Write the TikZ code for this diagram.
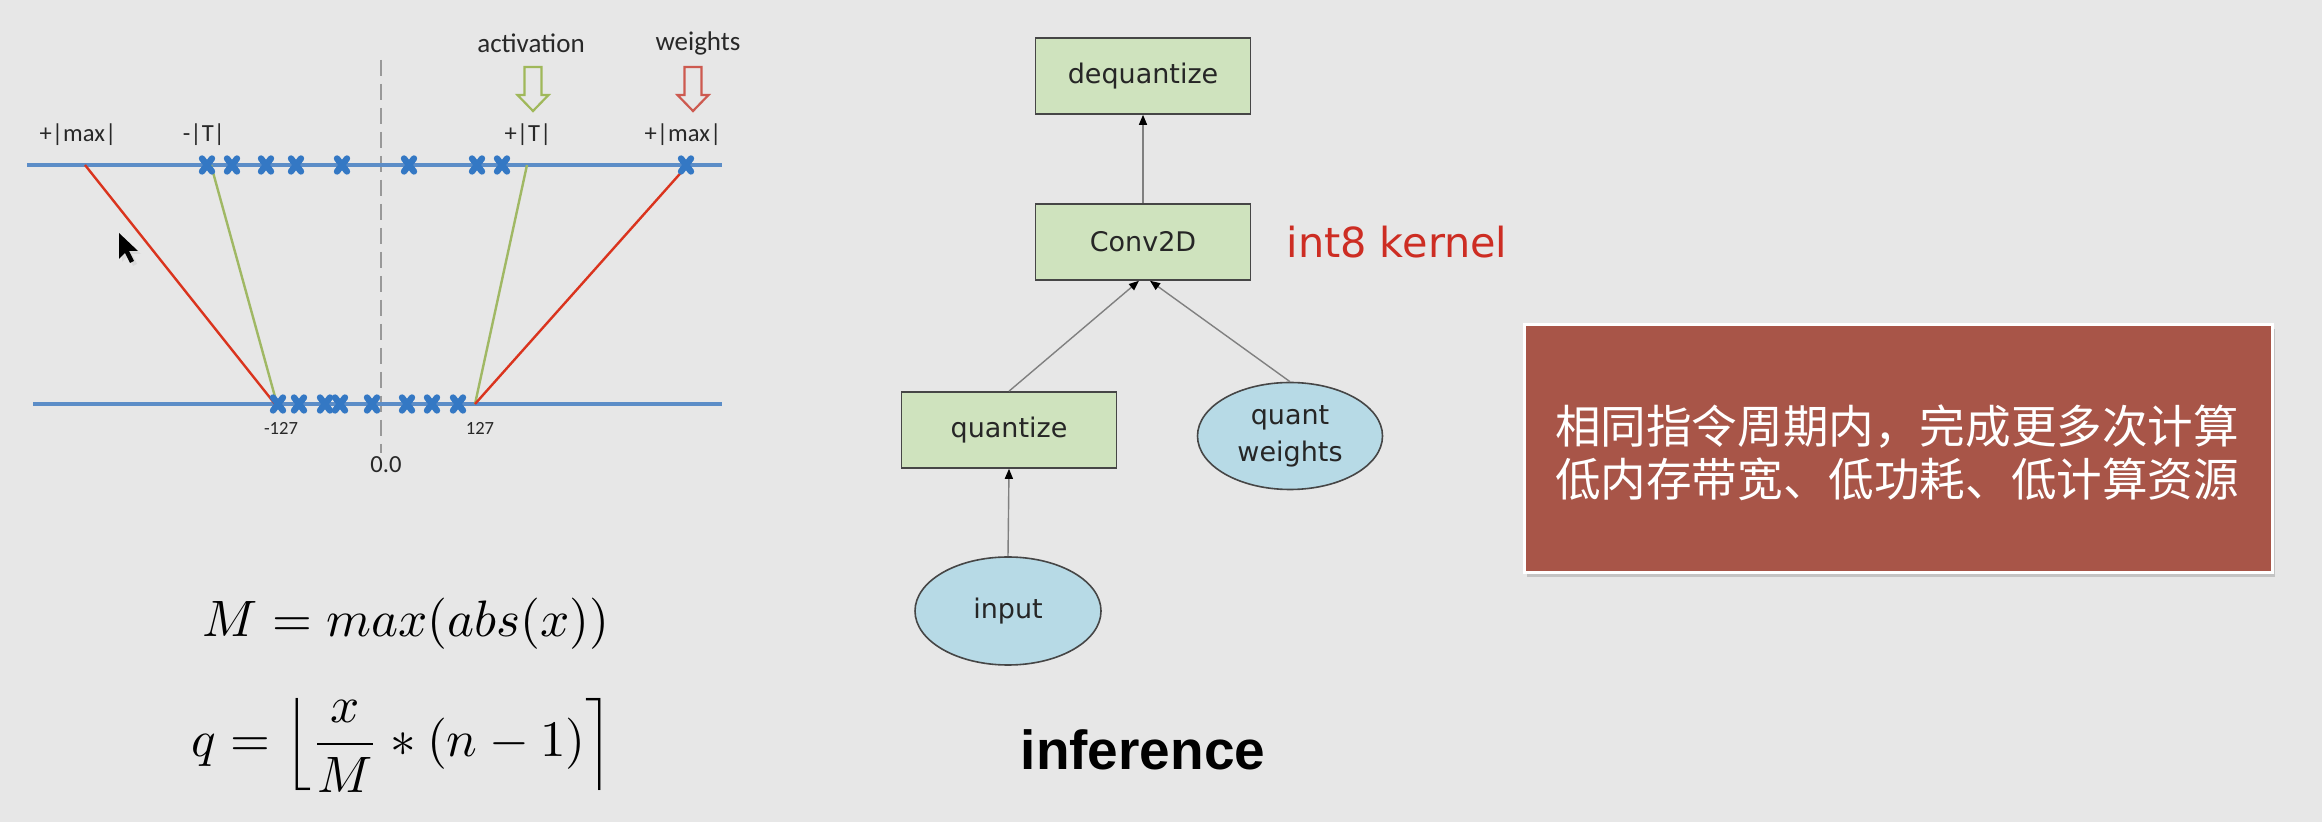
\documentclass[tikz,border=0pt]{standalone}
\usepackage{fontspec}
\usepackage{graphicx}
\usepackage{amsmath}
\usetikzlibrary{shapes.geometric,arrows.meta,shadows}
\newfontfamily\carlito{Carlito}
\newfontfamily\dejavu{DejaVu Sans}
\newfontfamily\libsans{Liberation Sans}
\newfontfamily\cjk{Noto Sans CJK SC}
\definecolor{bg}{RGB}{231,231,231}
\definecolor{axisblue}{RGB}{92,141,199}
\definecolor{crossblue}{RGB}{52,120,196}
\definecolor{redline}{RGB}{218,52,30}
\definecolor{greenline}{RGB}{160,184,100}
\definecolor{hgreen}{RGB}{160,184,90}
\definecolor{hred}{RGB}{205,90,80}
\definecolor{boxfill}{RGB}{207,227,190}
\definecolor{boxline}{RGB}{70,70,70}
\definecolor{ellfill}{RGB}{183,218,230}
\definecolor{redbox}{RGB}{168,85,72}
\definecolor{int8red}{RGB}{205,45,35}
\definecolor{labeltext}{RGB}{40,40,40}
\tikzset{
  axis/.style={draw=axisblue, line width=1.9pt},
  zeroline/.style={draw=black!40, line width=1.1pt, dash pattern=on 8pt off 4pt},
  redmap/.style={draw=redline, line width=1.2pt},
  greenmap/.style={draw=greenline, line width=1.2pt},
  lbl/.style={font=\carlito\fontsize{12.3}{14}\selectfont, text=labeltext, inner sep=0pt},
  toplbl/.style={font=\carlito\fontsize{13.5}{16}\selectfont, text=labeltext, inner sep=0pt},
  smalllbl/.style={font=\carlito\fontsize{9.3}{11}\selectfont, text=labeltext, inner sep=0pt},
  qbox/.style={draw=boxline, line width=0.8pt, fill=boxfill, minimum width=107.5pt, minimum height=38pt, inner sep=0pt, font=\dejavu\fontsize{13.5}{16}\selectfont, text=black!85},
  qell/.style={ellipse, draw=boxline, line width=0.8pt, fill=ellfill, inner sep=0pt, align=center, font=\dejavu\fontsize{13.5}{18.5}\selectfont, text=black!85},
  flow/.style={draw=black!50, line width=0.7pt, -{Triangle[length=5pt,width=4pt,color=black]}},
  pics/xmark/.style={code={\draw[crossblue, line width=3.2pt, line cap=round] (-5,-6.5) -- (5,6.5) (-5,6.5) -- (5,-6.5);}},
  pics/harrow/.style={code={\draw[#1, line width=1.1pt, line join=miter] (-8.5,0) -- (8.5,0) -- (8.5,28) -- (15.5,28) -- (0,44) -- (-15.5,28) -- (-8.5,28) -- cycle;}}
}
\begin{document}
\begin{tikzpicture}[x=0.5pt,y=-0.5pt]
\fill[bg] (0,0) rectangle (2322,822);
\useasboundingbox (0,0) rectangle (2322,822);

% ---------- left: quantization mapping ----------
\draw[zeroline] (381,60) -- (381,453);
\draw[axis] (27,165) -- (722,165);
\draw[axis] (33,404) -- (722,404);
\draw[redmap] (85,165) -- (275,404);
\draw[greenmap] (211,165) -- (277,404);
\draw[greenmap] (527,165) -- (475,404);
\draw[redmap] (686,167) -- (475,404);
\foreach \x in {207,232,266,296,342,409,477,502,686} \pic at (\x,165) {xmark};
\foreach \x in {278,299,325,340,372,407,432,458} \pic at (\x,404) {xmark};

\node[lbl] (lmax) at (78,135) {+|max|};
\node[lbl] (lT) at (204,135) {-|T|};
\node[lbl] (rT) at (528,135) {+|T|};
\node[lbl] (rmax) at (683,135) {+|max|};
\node[toplbl] (act) at (531,43) {activation};
\node[toplbl] (wts) at (698,43) {weights};
\pic at (533,67) {harrow=hgreen};
\pic at (693,67) {harrow=hred};
\node[smalllbl] (m127) at (281,428) {-127};
\node[smalllbl] (p127) at (480,428) {127};
\node[lbl] (zero) at (386,465) {0.0};

% mouse cursor
\fill[black!15] (122,236) -- (122,262) -- (128,256) -- (133,266) -- (137,264) -- (132,254) -- (141,254) -- cycle;
\fill[black] (119,233) -- (119,259) -- (125,253) -- (130,263) -- (134,261) -- (129,251) -- (138,251) -- cycle;

% formulas
\node[inner sep=0pt] (f1) at (406,624) {\scalebox{2.56}{$M = max(abs(x))$}};
\node[inner sep=0pt] (f2) at (402,745) {\scalebox{2.56}{$q = \left\lfloor \dfrac{x}{M} * (n-1) \right\rceil$}};

% ---------- middle: inference graph ----------
\node[qbox] (deq) at (1143,76) {dequantize};
\node[qbox] (conv) at (1143,242) {Conv2D};
\node[qbox] (quant) at (1009,430) {quantize};
\node[qell, minimum width=92.5pt, minimum height=53.5pt] (qw) at (1290,436) {quant\\weights};
\node[qell, minimum width=93pt, minimum height=54pt] (inp) at (1008,611) {input};
\node[font=\dejavu\fontsize{20.7}{24}\selectfont, text=int8red, inner sep=0pt] (k8) at (1397,242) {int8 kernel};
\node[font=\libsans\bfseries\fontsize{27.5}{32}\selectfont, inner sep=0pt] (inf) at (1143,750) {inference};

\draw[flow] (conv.north) -- (deq.south);
\draw[flow] (quant.north) -- ([xshift=-2pt]conv.south);
\draw[flow] (qw.north) -- ([xshift=3.5pt]conv.south);
\draw[flow] (inp.north) -- (quant.south);

% ---------- right: red box ----------
\node[draw=white, line width=1.5pt, fill=redbox, minimum width=374pt, minimum height=124pt,
      drop shadow={shadow xshift=1.5pt, shadow yshift=-2pt, opacity=0.35}] (rb) at (1898,449) {};
\node[font=\cjk\fontsize{22.8}{26.5}\selectfont, text=white, align=center, inner sep=0pt] (rbt) at (1897,453)
  {相同指令周期内，完成更多次计算\\低内存带宽、低功耗、低计算资源};
\end{tikzpicture}
\end{document}
